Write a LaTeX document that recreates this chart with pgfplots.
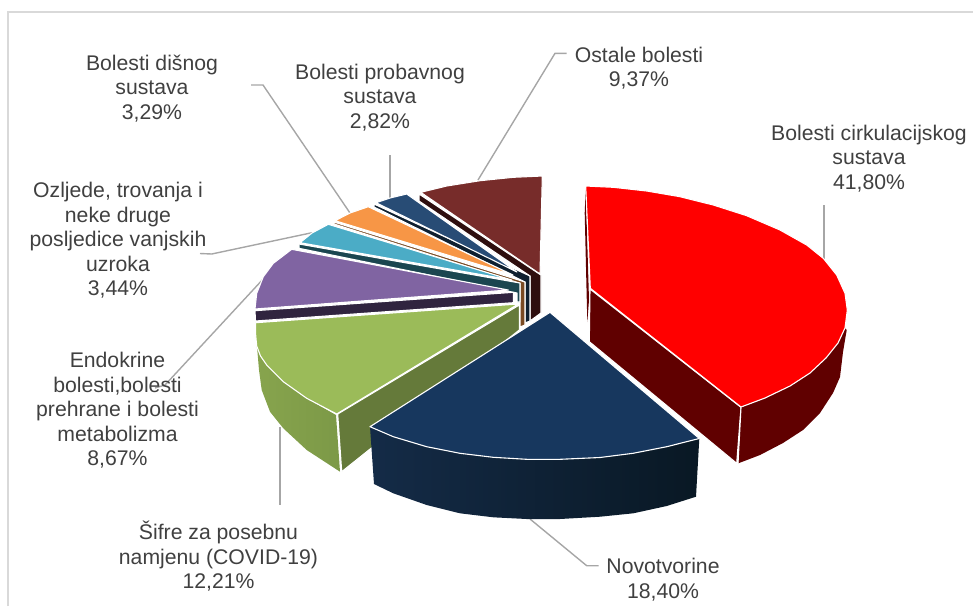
\documentclass[border=0pt]{standalone}
\usepackage{pgfplots}
\pgfplotsset{compat=1.18}
\usepackage{fontspec}
\setmainfont{Liberation Sans}
\definecolor{txt}{HTML}{404040}
\definecolor{lead}{HTML}{A6A6A6}
\definecolor{frm}{HTML}{D9D9D9}
\definecolor{redT}{HTML}{FF0000}
\definecolor{redS}{HTML}{600000}
\definecolor{navT}{HTML}{17375E}
\definecolor{navL}{HTML}{142B47}
\definecolor{navR}{HTML}{091824}
\definecolor{grnT}{HTML}{9BBB59}
\definecolor{grnI}{HTML}{657A3A}
\definecolor{grnL}{HTML}{87A44D}
\definecolor{grnR}{HTML}{7C9947}
\definecolor{purT}{HTML}{8064A2}
\definecolor{purS}{HTML}{30243F}
\definecolor{tealT}{HTML}{4BACC6}
\definecolor{tealS}{HTML}{1B4650}
\definecolor{orT}{HTML}{F79646}
\definecolor{orS}{HTML}{7A4A22}
\definecolor{bluT}{HTML}{284C75}
\definecolor{bluS}{HTML}{0F2030}
\definecolor{marT}{HTML}{772C2A}
\definecolor{marS}{HTML}{2E0E0E}
\pgfplotsset{
  face/.style={draw=white,line width=1.1pt,line join=round},
  ld/.style={draw=lead,line width=1.4pt},
}
\newcommand{\lab}[3]{\node[text=txt,align=center,font=\fontsize{21.2}{24.5}\selectfont,inner sep=0pt] at (axis cs:#1,#2) {#3};}
\begin{document}
\begin{tikzpicture}
\begin{axis}[scale only axis,width=973pt,height=606pt,xmin=0,xmax=973,ymin=0,ymax=606,y dir=reverse,axis lines=none,clip=true]
\addplot[draw=none] coordinates {(0,0) (973,606)};
% frame
\addplot[draw=frm,line width=1.2pt] coordinates {(8,606) (8,12) (973,12)};
% leaders
\addplot[ld] coordinates {(824,205) (824,260)};
\addplot[ld] coordinates {(530,519) (586.7,565.7) (598.7,565.7)};
\addplot[ld] coordinates {(280,427) (280,505)};
\addplot[ld] coordinates {(265,277) (165,385) (155,388)};
\addplot[ld] coordinates {(312,232.7) (211.7,254) (200,253.5)};
\addplot[ld] coordinates {(350,213) (263,85) (251,85)};
\addplot[ld] coordinates {(390,198) (390,155)};
\addplot[ld] coordinates {(478,180) (555,53.3) (566.7,53.3)};
% maroon
\addplot[face,fill=marS] coordinates {(419,194) (419,201) (530,276) (530,321) (541,313) (541,275)} -- cycle;
\addplot[face,fill=marT] coordinates {(420.7,192.3) (446.7,186) (480,180.7) (513.3,177.3) (542.3,176) (540,274)} -- cycle;
% blue
\addplot[face,fill=bluS] coordinates {(374,204) (374,207) (525,282) (525,323) (530,321) (530,276)} -- cycle;
\addplot[face,fill=bluT] coordinates {(376,202.7) (390,198) (406.7,194) (517,272)} -- cycle;
% orange
\addplot[face,fill=orS] coordinates {(334,222) (334,224) (520,283.3) (520,327) (525,325) (525,282)} -- cycle;
\addplot[face,fill=orT] coordinates {(335,220.7) (350,213) (368.3,206.7) (513,275)} -- cycle;
% teal
\addplot[face,fill=tealS] coordinates {(299,244) (299,248.3) (517,293) (517,302) (520,302) (520,283)} -- cycle;
\addplot[face,fill=tealT] coordinates {(300,242.7) (312,233) (328.3,224.3) (511.7,280)} -- cycle;
% purple
\addplot[face,fill=purS] coordinates {(255,310.7) (255.5,321) (513.3,302.7) (513.3,292.3)} -- cycle;
\addplot[face,fill=purT] coordinates {(255,309) (256.7,293.3) (263.3,276.7) (273.3,263.3) (291.7,249.3) (508.3,290)} -- cycle;
% green
\addplot[draw=none,left color=grnL,right color=grnR] coordinates {(256.7,346.7) (257.3,350) (259,370) (261.7,390) (270,411.7) (283.3,428.3) (306.7,450) (340,471.7) (336,415) (306.7,398.3) (283.3,381.7) (266.7,365)} -- cycle;
\addplot[face,fill=grnI] coordinates {(337.7,414) (519.3,305) (519.3,330) (341.7,471.7)} -- cycle;
\addplot[face,fill=grnT] coordinates {(255.7,322.7) (255.5,333) (256.7,346) (260.5,356) (266.7,365) (283.3,381.7) (306.7,398.3) (336.7,414) (518.3,304)} -- cycle;
% navy
\addplot[draw=none,left color=navL,right color=navR] coordinates {(370,426.7) (374,484) (393.3,493.3) (426.7,505) (460,513.3) (493.3,517.3) (526.7,519) (560,519) (600,516.7) (633.3,513.3) (666.7,506) (696,496.7) (699.3,438.5) (666.7,446.7) (633,453.3) (600,457.5) (560,459.3) (526.7,459.3) (493.3,457.3) (460,453.3) (426.7,446.7) (393.3,436.7)} -- cycle;
\addplot[face,fill=navT] coordinates {(370,426.7) (393.3,436.7) (426.7,446.7) (460,453.3) (493.3,457.3) (526.7,459.3) (560,459.3) (600,457.5) (633,453.3) (666.7,446.7) (699.3,438.5) (550,312.3)} -- cycle;
% red
\addplot[draw=none,fill=redS] coordinates {(585.7,190) (584.7,213) (587.3,322) (589,300)} -- cycle;
\addplot[face,fill=redS] coordinates {(590,289) (741,407.3) (736.7,463.3) (589.3,341.7)} -- cycle;
\addplot[draw=none,fill=redS] coordinates {(741,407.3) (765,398) (790,386) (810,373) (826,358) (838,343) (845,328) (846.7,330) (843,352) (840,377) (833,393) (820,413) (803,430) (783,443) (760,455) (738.3,463.3)} -- cycle;
\addplot[draw=white,line width=1.1pt] coordinates {(741,407.3) (738,463.3)};
\addplot[face,fill=redT] coordinates {(585.7,186) (613.3,187.3) (646.7,191) (680,196.7) (713.3,205) (746.7,215.7) (780,230) (806.7,245) (823.3,258.3) (836.7,275) (845,293.3) (847.3,310) (845,328) (838,343) (826,358) (810,373) (790,386) (765,398) (741,407) (590.3,288.3)} -- cycle;
% labels
\lab{152}{88.5}{Bolesti dišnog\\sustava\\3,29\%}
\lab{380}{97.5}{Bolesti probavnog\\sustava\\2,82\%}
\lab{639}{68}{Ostale bolesti\\9,37\%}
\lab{869}{158.5}{Bolesti cirkulacijskog\\sustava\\41,80\%}
\lab{118}{240.5}{Ozljede, trovanja i\\neke druge\\posljedice vanjskih\\uzroka\\3,44\%}
\lab{117.5}{410.5}{Endokrine\\bolesti,bolesti\\prehrane i bolesti\\metabolizma\\8,67\%}
\lab{218.5}{556.5}{Šifre za posebnu\\namjenu (COVID-19)\\12,21\%}
\lab{663}{579.5}{Novotvorine\\18,40\%}
\end{axis}
\end{tikzpicture}
\end{document}
